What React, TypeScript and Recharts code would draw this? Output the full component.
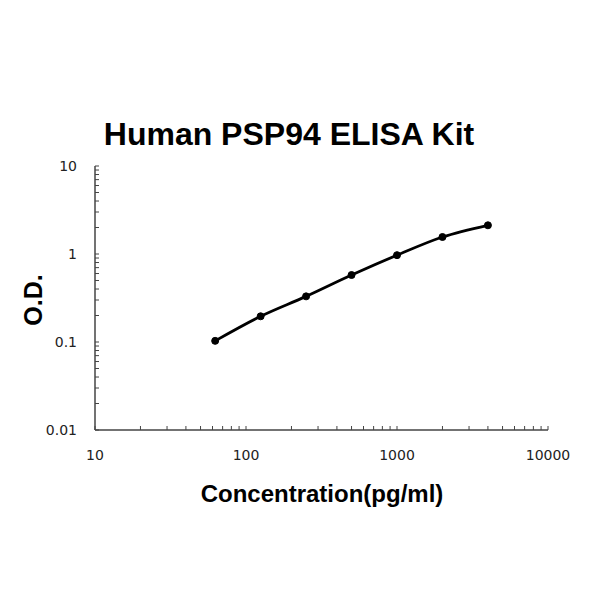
import { Line, LineChart, XAxis, YAxis } from "recharts"

// standard curve points (pg/ml vs O.D.)
const CONCENTRATIONS = [62.5, 125, 250, 500, 1000, 2000, 4000]
const OD_VALUES = [0.103, 0.196, 0.33, 0.577, 0.97, 1.56, 2.12]

const X_MAJOR = [10, 100, 1000, 10000]
const Y_MAJOR = [0.01, 0.1, 1, 10]

const data = CONCENTRATIONS.map((c, i) => ({ conc: c, od: OD_VALUES[i] }))

// log ticks: every 1..9 multiple of each decade
const logTicks = (major: number[]) => {
    const out: number[] = []
    major.forEach((m, i) => {
        if (i === major.length - 1) {
            out.push(m)
            return
        }
        for (let k = 1; k < 10; k++) out.push(+(m * k).toPrecision(3))
    })
    return out
}

const X_TICKS = logTicks(X_MAJOR)
const Y_TICKS = logTicks(Y_MAJOR)

const AXIS_COLOR = "#444"
const FONT = "'Liberation Sans', Arial, sans-serif"
const TICK_FONT = "'DejaVu Sans', sans-serif"

const XTick = ({ x, y, payload }: any) => {
    const major = X_MAJOR.includes(payload.value)
    return (
        <g>
            <line x1={x} x2={x} y1={y} y2={y - 4} stroke={AXIS_COLOR} />
            {major && (
                <text x={x} y={y + 30} textAnchor="middle" fontSize={14} fill="#222" fontFamily={TICK_FONT}>
                    {payload.value}
                </text>
            )}
        </g>
    )
}

const YTick = ({ x, y, payload }: any) => {
    const major = Y_MAJOR.includes(payload.value)
    return (
        <g>
            <line x1={x} x2={x + 4} y1={y} y2={y} stroke={AXIS_COLOR} />
            {major && (
                <text x={x - 18} y={y + 5} textAnchor="end" fontSize={14} fill="#222" fontFamily={TICK_FONT}>
                    {payload.value}
                </text>
            )}
        </g>
    )
}

export default function App() {
    return (
        <div style={{ position: "absolute", left: 0, top: 0, width: 600, height: 600, background: "#fff" }}>
            <div style={{
                position: "absolute", left: 0, width: 578, top: 116, textAlign: "center",
                fontFamily: FONT, fontWeight: "bold", fontSize: 32, color: "#000", lineHeight: "36px"
            }}>
                Human PSP94 ELISA Kit
            </div>
            <div style={{
                position: "absolute", left: 0, width: 644, top: 480, textAlign: "center",
                fontFamily: FONT, fontWeight: "bold", fontSize: 24, color: "#000", lineHeight: "28px"
            }}>
                Concentration(pg/ml)
            </div>
            <div style={{
                position: "absolute", left: 33, top: 300, transform: "translate(-50%, -50%) rotate(-90deg)",
                fontFamily: FONT, fontWeight: "bold", fontSize: 25, color: "#000", whiteSpace: "nowrap"
            }}>
                O.D.
            </div>
            <div style={{ position: "absolute", left: 0, top: 0 }}>
                <LineChart width={600} height={600} data={data}
                    margin={{ top: 166, right: 52, bottom: 140, left: 55 }}>
                    <XAxis
                        dataKey="conc"
                        type="number"
                        scale="log"
                        domain={[10, 10000]}
                        ticks={X_TICKS}
                        interval={0}
                        tick={<XTick />}
                        tickLine={false}
                        tickSize={0}
                        tickMargin={0}
                        height={30}
                        stroke={AXIS_COLOR}
                        strokeWidth={1.5}
                        allowDataOverflow
                    />
                    <YAxis
                        dataKey="od"
                        type="number"
                        scale="log"
                        domain={[0.01, 10]}
                        ticks={Y_TICKS}
                        interval={0}
                        tick={<YTick />}
                        tickLine={false}
                        tickSize={0}
                        tickMargin={0}
                        width={40}
                        stroke={AXIS_COLOR}
                        strokeWidth={1.5}
                        allowDataOverflow
                    />
                    <Line
                        dataKey="od"
                        type="monotone"
                        stroke="#000"
                        strokeWidth={2.8}
                        dot={{ r: 3.5, fill: "#000", stroke: "#000", strokeWidth: 1 }}
                        isAnimationActive={false}
                    />
                </LineChart>
            </div>
        </div>
    )
}
